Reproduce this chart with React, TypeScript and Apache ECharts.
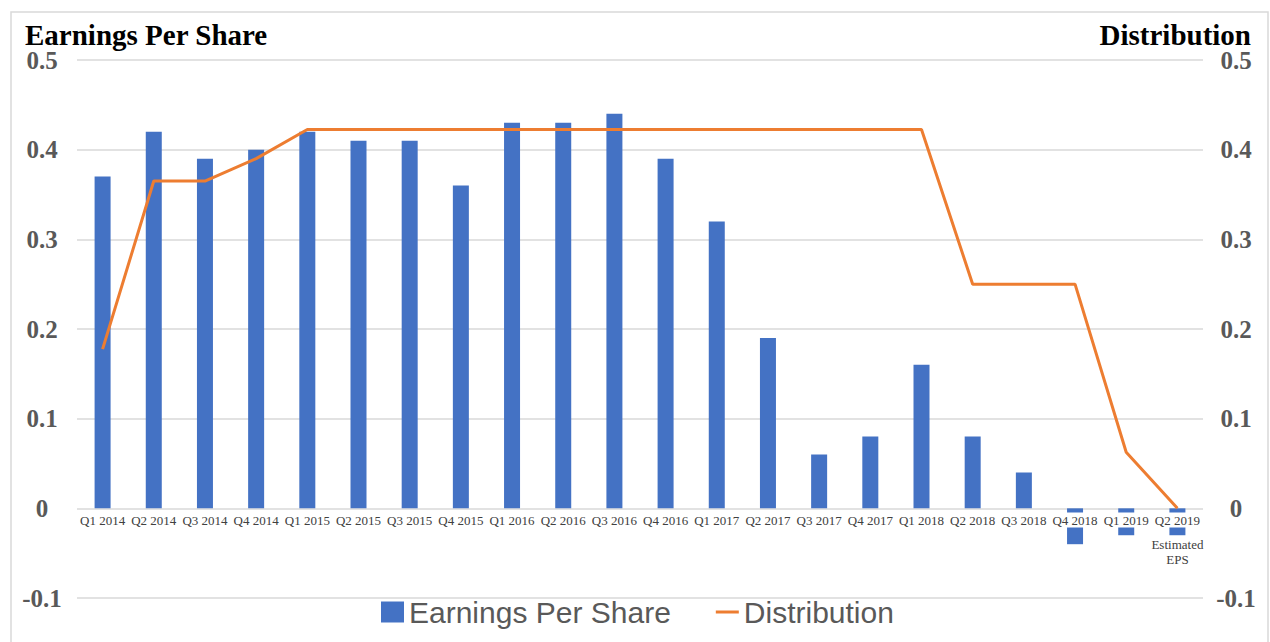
import React, { useEffect, useRef } from "react";
import * as echarts from "echarts";

const categories = [
  "Q1 2014", "Q2 2014", "Q3 2014", "Q4 2014",
  "Q1 2015", "Q2 2015", "Q3 2015", "Q4 2015",
  "Q1 2016", "Q2 2016", "Q3 2016", "Q4 2016",
  "Q1 2017", "Q2 2017", "Q3 2017", "Q4 2017",
  "Q1 2018", "Q2 2018", "Q3 2018", "Q4 2018",
  "Q1 2019", "Q2 2019",
];

const eps = [
  0.37, 0.42, 0.39, 0.4,
  0.42, 0.41, 0.41, 0.36,
  0.43, 0.43, 0.44, 0.39,
  0.32, 0.19, 0.06, 0.08,
  0.16, 0.08, 0.04, -0.04,
  -0.03, -0.03,
];

const distribution = [
  0.1775, 0.365, 0.365, 0.39,
  0.4225, 0.4225, 0.4225, 0.4225,
  0.4225, 0.4225, 0.4225, 0.4225,
  0.4225, 0.4225, 0.4225, 0.4225,
  0.4225, 0.25, 0.25, 0.25,
  0.0625, 0,
];

const estimatedNote = ["Estimated", "EPS"];

const yMin = -0.1;
const yMax = 0.5;
const yInterval = 0.1;

export default function App() {
  const ref = useRef<HTMLDivElement>(null);

  useEffect(() => {
    if (!ref.current) return;
    const chart = echarts.init(ref.current, undefined, { renderer: "svg" });
    const serif = "'Liberation Serif', 'Times New Roman', serif";
    const sans = "'Liberation Sans', Arial, sans-serif";
    const yLabelFmt = (v: number) => {
      const r = Math.round(v * 10) / 10;
      return r === 0 ? "0" : String(r);
    };
    chart.setOption({
      animation: false,
      backgroundColor: "#ffffff",
      grid: { left: 77, right: 67, top: 60, bottom: 44, containLabel: false },
      graphic: [
        {
          type: "rect",
          shape: { x: 11, y: 12, width: 1257, height: 650 },
          style: { fill: "none", stroke: "#d9d9d9", lineWidth: 1.5 },
          silent: true,
        },
        {
          type: "text",
          x: 25,
          y: 35,
          style: {
            text: "Earnings Per Share",
            font: `bold 29px ${serif}`,
            fill: "#000000",
            textAlign: "left",
            textVerticalAlign: "middle",
          },
        },
        {
          type: "text",
          x: 1251,
          y: 35,
          style: {
            text: "Distribution",
            font: `bold 29px ${serif}`,
            fill: "#000000",
            textAlign: "right",
            textVerticalAlign: "middle",
          },
        },
      ],
      legend: {
        left: 376,
        top: 592,
        itemWidth: 23,
        itemHeight: 21,
        itemGap: 45,
        textStyle: { fontFamily: sans, fontSize: 30, color: "#595959" },
        data: [
          { name: "Earnings Per Share", icon: "rect" },
          { name: "Distribution", icon: "path://M0,0 H23 V3 H0 Z" },
        ],
      },
      xAxis: {
        type: "category",
        data: categories,
        position: "bottom",
        z: 10,
        axisTick: { show: false },
        axisLine: { show: false, onZero: false },
        axisLabel: {
          interval: 0,
          margin: -86,
          formatter: (v: string, i: number) =>
            i === categories.length - 1
              ? `{a|${v}}\n{s| }\n{b|${estimatedNote[0]}}\n{b|${estimatedNote[1]}}`
              : `{a|${v}}`,
          rich: {
            a: {
              fontFamily: serif,
              fontSize: 13,
              color: "#404040",
              backgroundColor: "#ffffff",
              lineHeight: 16,
              padding: [1, 2, 1, 2],
            },
            s: {
              fontSize: 2,
              lineHeight: 9,
            },
            b: {
              fontFamily: serif,
              fontSize: 13,
              color: "#404040",
              lineHeight: 15,
            },
          },
        },
      },
      yAxis: [
        {
          type: "value",
          min: yMin,
          max: yMax,
          interval: yInterval,
          axisLine: { show: false },
          axisTick: { show: false },
          splitLine: { lineStyle: { color: "#d9d9d9", width: 1.5 } },
          axisLabel: {
            align: "center",
            margin: 35,
            fontFamily: serif,
            fontWeight: "bold",
            fontSize: 25,
            color: "#595959",
            formatter: yLabelFmt,
          },
        },
        {
          type: "value",
          min: yMin,
          max: yMax,
          interval: yInterval,
          axisLine: { show: false },
          axisTick: { show: false },
          splitLine: { show: false },
          axisLabel: {
            align: "center",
            margin: 33,
            fontFamily: serif,
            fontWeight: "bold",
            fontSize: 25,
            color: "#595959",
            formatter: yLabelFmt,
          },
        },
      ],
      series: [
        {
          name: "Earnings Per Share",
          type: "bar",
          yAxisIndex: 0,
          data: eps,
          barWidth: 16,
          itemStyle: { color: "#4472C4" },
        },
        {
          name: "Distribution",
          type: "line",
          yAxisIndex: 1,
          data: distribution,
          symbol: "none",
          lineStyle: { color: "#ED7D31", width: 3 },
          itemStyle: { color: "#ED7D31" },
          z: 5,
        },
      ],
    });
    return () => chart.dispose();
  }, []);

  return (
    <div
      ref={ref}
      style={{ position: "fixed", left: 0, top: 0, width: 1270, height: 642 }}
    />
  );
}
